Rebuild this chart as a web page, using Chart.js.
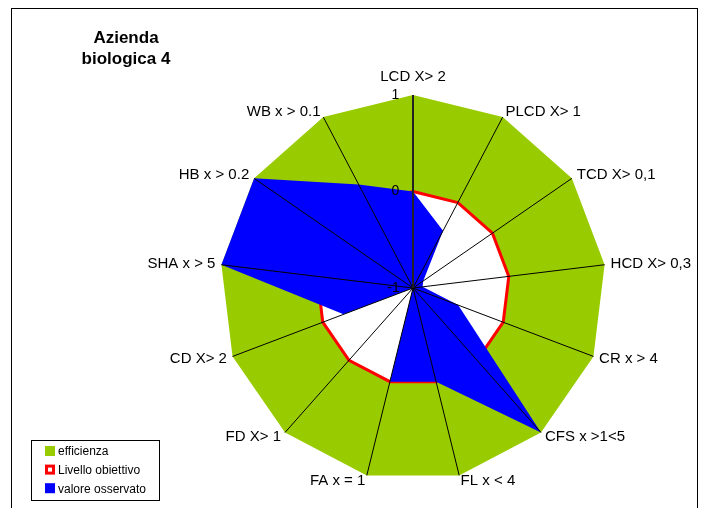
<!DOCTYPE html>
<html><head><meta charset="utf-8">
<script src="https://cdn.jsdelivr.net/npm/chart.js@4.4.0/dist/chart.umd.min.js"></script>
<style>html,body{margin:0;padding:0;background:#fff}#wrap{width:702px;height:508px;position:relative}</style>
</head><body><div id="wrap"><canvas id="c" width="702" height="508"></canvas></div>
<script>
const categories = ['LCD X> 2','PLCD X> 1','TCD X> 0,1','HCD X> 0,3','CR x > 4','CFS x >1<5','FL x < 4','FA x = 1','FD X> 1','CD X> 2','SHA x > 5','HB x > 0.2','WB x > 0.1'];
const seriesNames = ['efficienza','Livello obiettivo','valore osservato'];
const efficienza = [1,1,1,1,1,1,1,1,1,1,1,1,1];
const livelloObiettivo = [0,0,0,0,0,0,0,0,0,0,0,0,0];
const valoreOsservato = [0,-0.33,-0.87,-0.9,-0.5,1,0,0,-1,-0.23,1,1,0.21];
const tickLabels = ['-1','0','1'];
const titleLines = ['Azienda','biologica 4'];

const FONT = "'Liberation Sans', Arial, sans-serif";

const decor = {
  id: 'decor',
  afterDraw(chart) {
    const ctx = chart.ctx;
    const scale = chart.scales.r;
    ctx.save();
    // frame
    ctx.strokeStyle = '#000';
    ctx.lineWidth = 1;
    ctx.strokeRect(11.5, 8.5, 686, 520);
    // title
    ctx.fillStyle = '#000';
    ctx.font = 'bold 17px ' + FONT;
    ctx.textAlign = 'center';
    ctx.textBaseline = 'middle';
    titleLines.forEach((t, i) => ctx.fillText(t, 126, 38 + i * 21));
    // point labels
    ctx.font = '15px ' + FONT;
    categories.forEach((lab, i) => {
      const a = scale.getIndexAngle(i);
      const s = Math.sin(a);
      const p = scale.getPointPosition(i, scale.drawingArea + (i === 0 ? 18 : 6));
      ctx.textAlign = s > 0.05 ? 'left' : (s < -0.05 ? 'right' : 'center');
      ctx.fillText(lab, p.x, p.y);
    });
    // legend
    ctx.strokeStyle = '#000';
    ctx.lineWidth = 1;
    ctx.strokeRect(31.5, 440.5, 128, 60);
    ctx.font = '12px ' + FONT;
    ctx.textAlign = 'left';
    chart.data.datasets.forEach((ds, i) => {
      const y = 446 + i * 18.6;
      ctx.fillStyle = ds.backgroundColor;
      ctx.fillRect(45, y, 10, 10);
      if (ds.borderWidth) {
        ctx.strokeStyle = ds.borderColor;
        ctx.lineWidth = 3;
        ctx.strokeRect(46.5, y + 1.5, 7, 7);
      }
      ctx.fillStyle = '#000';
      ctx.fillText(ds.label, 58, y + 6);
    });
    ctx.restore();
  }
};

new Chart(document.getElementById('c'), {
  type: 'radar',
  data: {
    labels: categories,
    datasets: [
      { label: seriesNames[0], data: efficienza, backgroundColor: '#99CC00', borderWidth: 0, fill: 'start', order: 3 },
      { label: seriesNames[1], data: livelloObiettivo, backgroundColor: '#FFFFFF', borderColor: '#FF0000', borderWidth: 3, fill: 'start', order: 2 },
      { label: seriesNames[2], data: valoreOsservato, backgroundColor: '#0000FF', borderWidth: 0, fill: 'start', order: 1 }
    ]
  },
  options: {
    responsive: false,
    devicePixelRatio: 1,
    animation: false,
    layout: { padding: { top: 86, bottom: 18, left: 206, right: 82 } },
    elements: { point: { radius: 0, hoverRadius: 0 }, line: { tension: 0 } },
    plugins: { legend: { display: false }, title: { display: false }, tooltip: { enabled: false } },
    scales: {
      r: {
        min: -1, max: 1,
        grid: { display: false, z: 1 },
        angleLines: {
          display: true,
          color: (c) => c.index === 0 ? '#222' : '#000',
          lineWidth: (c) => c.index === 0 ? 2 : 1
        },
        pointLabels: { display: false },
        ticks: {
          z: 1,
          stepSize: 1,
          showLabelBackdrop: false,
          color: '#000',
          font: { size: 14, family: FONT },
          callback: (v, i) => tickLabels[i] + (tickLabels[i].length > 1 ? '          ' : '         ')
        }
      }
    }
  },
  plugins: [decor]
});
</script></body></html>
